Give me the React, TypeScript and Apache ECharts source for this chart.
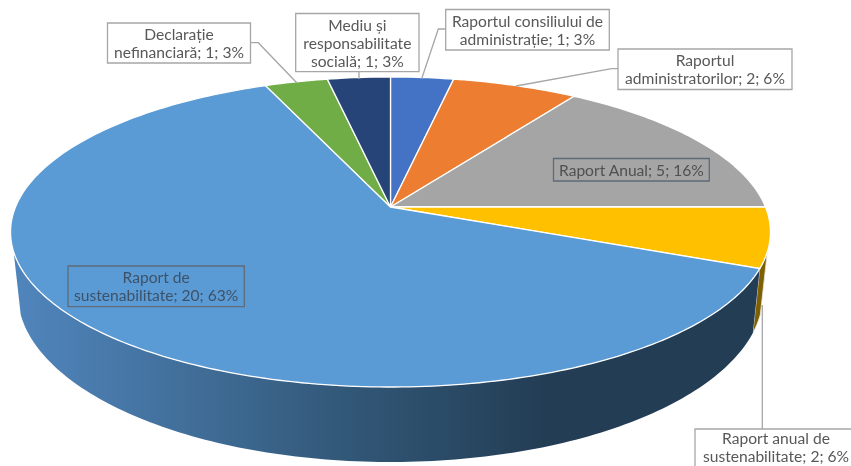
import React, { useEffect, useRef } from "react";
import * as echarts from "echarts";

const categories = [
  "Raportul consiliului de administrație",
  "Raportul administratorilor",
  "Raport Anual",
  "Raport anual de sustenabilitate",
  "Raport de sustenabilitate",
  "Declarație nefinanciară",
  "Mediu și responsabilitate socială",
];
const values = [1, 2, 5, 2, 20, 1, 1];
const percents = [3, 6, 16, 6, 63, 3, 3];
const topColors = ["#4472C4", "#ED7D31", "#A5A5A5", "#FFC000", "#5B9BD5", "#70AD47", "#264478"];
const sideColors = ["#2f5597", "#ae5a21", "#7b7b7b", "#7f6000", "", "#4e7a31", "#1a2f54"];

// label wrapping: text before the line break, per category
const labelHeads = [
  "Raportul consiliului de\nadministrație",
  "Raportul\nadministratorilor",
  "Raport Anual",
  "Raport anual de\nsustenabilitate",
  "Raport de\nsustenabilitate",
  "Declarație\nnefinanciară",
  "Mediu și\nresponsabilitate\nsocială",
];
// box: x0, y0, x1, y1, and centre of text
const labelBoxes = [
  [445.7, 9.5, 609.3, 50],
  [618, 49, 792, 89.5],
  [553.5, 158.5, 709.3, 181],
  [695, 429, 857, 472],
  [68, 266, 244.3, 306.7],
  [107.5, 23, 250.5, 63],
  [295.7, 13.5, 419, 71.7],
];
const leaders = [
  [[445.7, 29], [438.3, 29], [421.7, 78.7]],
  [[618, 68.7], [611.7, 68.7], [516, 86]],
  [],
  [[762.3, 429], [762.3, 305]],
  [],
  [[250.5, 42.7], [258.3, 42.7], [296.7, 82.7]],
  [[359, 71.7], [359, 79]],
];

// perspective projection of the pie's disc
const CX = 390.5;
const TOP = { a: 375, b: 117.6, c: 207 };
const BOTTOM = { a: 368, b: 121.7, c: 265.8 };
const K = 0.1613;
const VISIBLE_FROM = 106.5;
const VISIBLE_TO = 253.5;

function project(deg: number, r: number, f: { a: number; b: number; c: number }) {
  const t = (deg * Math.PI) / 180;
  const x = r * Math.sin(t);
  const y = -r * Math.cos(t);
  const d = 1 - K * y;
  return [CX + (f.a * x) / d, (f.c + f.b * y) / d];
}

const total = values.reduce((s, v) => s + v, 0);
function sliceAngles(i: number) {
  let acc = 0;
  for (let k = 0; k < i; k++) acc += values[k];
  return [(acc / total) * 360, ((acc + values[i]) / total) * 360];
}
function arcPoints(from: number, to: number, f: typeof TOP) {
  const pts: number[][] = [];
  const n = Math.max(2, Math.ceil(Math.abs(to - from)));
  for (let j = 0; j <= n; j++) pts.push(project(from + ((to - from) * j) / n, 1, f));
  return pts;
}

export default function App() {
  const ref = useRef<HTMLDivElement>(null);
  useEffect(() => {
    const chart = echarts.init(ref.current!, undefined, { renderer: "svg" });
    const font = "Lato, 'Open Sans', sans-serif";
    const blueSide = new echarts.graphic.LinearGradient(
      17, 0, 545, 0,
      [
        { offset: 0, color: "#5085BC" },
        { offset: 0.3, color: "#42709C" },
        { offset: 0.62, color: "#325878" },
        { offset: 1, color: "#233D54" },
      ],
      true
    );
    const elements: any[] = [];
    categories.forEach((_, i) => {
      const [x0, y0, x1, y1] = labelBoxes[i];
      const onSlice = i === 2 || i === 4;
      if (leaders[i].length) {
        elements.push({
          type: "polyline",
          z: 10,
          shape: { points: leaders[i] },
          style: { stroke: "#a6a6a6", lineWidth: 1.3, fill: "none" },
        });
      }
      elements.push({
        type: "rect",
        z: 11,
        shape: { x: x0, y: y0, width: x1 - x0, height: y1 - y0 },
        style: {
          fill: onSlice ? "transparent" : "#ffffff",
          stroke: onSlice ? "#5f6b78" : "#a6a6a6",
          lineWidth: 1.3,
        },
      });
      const head = labelHeads[i];
      const cy = i === 3 ? 447.4 : (y0 + y1) / 2;
      const cx = i === 3 ? 776 : (x0 + x1) / 2;
      elements.push({
        type: "text",
        z: 12,
        x: cx,
        y: cy,
        style: {
          text: `${head}; ${values[i]}; ${percents[i]}%`,
          align: "center",
          verticalAlign: "middle",
          fontFamily: font,
          fontSize: 15.6,
          lineHeight: 18,
          fill: i === 4 ? "#3d5268" : i === 2 ? "#505050" : "#585858",
        },
      });
    });

    chart.setOption({
      animation: false,
      backgroundColor: "#ffffff",
      graphic: { elements },
      series: [
        {
          type: "custom",
          name: "side",
          coordinateSystem: "none",
          silent: true,
          z: 1,
          data: values,
          renderItem: (params: any) => {
            const i = params.dataIndex;
            const [a0, a1] = sliceAngles(i);
            const from = Math.max(a0, VISIBLE_FROM);
            const to = Math.min(a1, VISIBLE_TO);
            if (to <= from) return { type: "group", children: [] };
            const upper = arcPoints(from, to, TOP);
            const lower = arcPoints(to, from, BOTTOM);
            const isBlue = i === 4;
            return {
              type: "polygon",
              shape: { points: upper.concat(lower) },
              style: isBlue
                ? { fill: blueSide }
                : { fill: sideColors[i], stroke: "#e8e8e8", lineWidth: 0.8 },
            };
          },
        },
        {
          type: "custom",
          name: "top",
          coordinateSystem: "none",
          silent: true,
          z: 2,
          data: values,
          renderItem: (params: any) => {
            const i = params.dataIndex;
            const [a0, a1] = sliceAngles(i);
            const pts = [project(0, 0, TOP)].concat(arcPoints(a0, a1, TOP));
            return {
              type: "polygon",
              shape: { points: pts },
              style: { fill: topColors[i], stroke: "#ffffff", lineWidth: 1.3 },
            };
          },
        },
      ],
    });
    return () => chart.dispose();
  }, []);
  return (
    <div
      ref={ref}
      style={{ position: "fixed", left: 0, top: 0, width: 851, height: 466, overflow: "hidden", filter: "blur(0.5px)" }}
    />
  );
}
